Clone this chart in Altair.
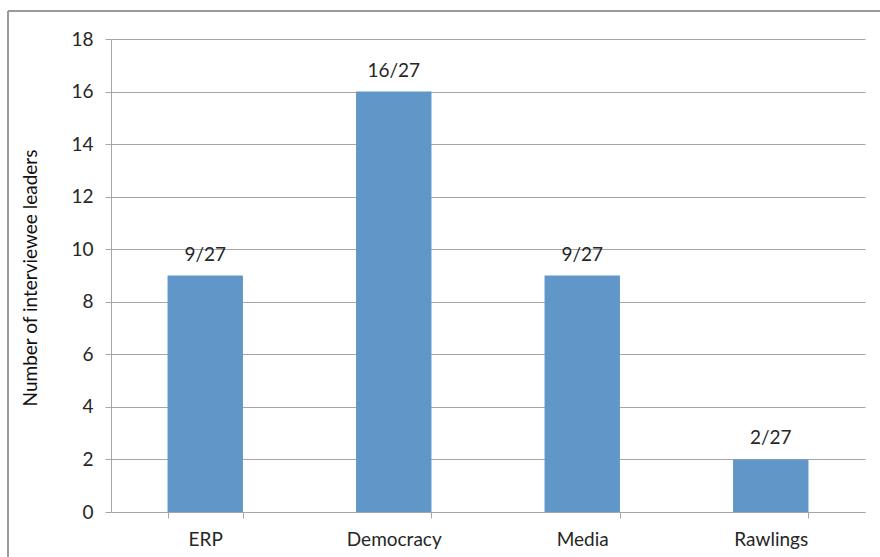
import altair as alt
import pandas as pd

categories = ["ERP", "Democracy", "Media", "Rawlings"]
values = [9, 16, 9, 2]
labels = ["9/27", "16/27", "9/27", "2/27"]

df = pd.DataFrame({"category": categories, "value": values, "label": labels})

FONT = "Lato"
GRID = "#A6A6A6"
W, H = 754, 473
FS = 19

x_enc = alt.X("category:N", sort=categories,
              scale=alt.Scale(paddingInner=0.6, paddingOuter=0.3),
              axis=alt.Axis(title=None, labelAngle=0, labelFontSize=FS, labelFont=FONT,
                            labelColor="#262626", labelPadding=12, tickBand="extent",
                            tickSize=6, tickColor=GRID, domainColor=GRID, domainWidth=1))
y_enc = alt.Y("value:Q", scale=alt.Scale(domain=[0, 18], nice=False),
              axis=alt.Axis(values=list(range(0, 19, 2)), title="Number of interviewee leaders",
                            titleFont=FONT, titleFontSize=FS, titleFontWeight="normal",
                            titleColor="#111111", titleX=-81, titleY=H / 2 + 2,
                            titleAngle=-90, titleAlign="center", titleBaseline="middle",
                            labelFontSize=FS, labelFont=FONT, labelColor="#262626",
                            labelPadding=12, tickSize=6, tickColor=GRID,
                            domainColor=GRID, gridColor=GRID, grid=True, gridWidth=1))

bars = alt.Chart(df).mark_bar(color="#6096C8").encode(x=x_enc, y=y_enc)
text = alt.Chart(df).mark_text(font=FONT, fontSize=FS, color="#262626",
                               baseline="alphabetic", dy=-15).encode(
    x=alt.X("category:N", sort=categories), y="value:Q", text="label:N")

border_v = alt.Chart(df).mark_rule(color="#9A9A9A", strokeWidth=1.5).encode(
    x=alt.value(-103), y=alt.value(-28), y2=alt.value(530))
border_h = alt.Chart(df).mark_rule(color="#9A9A9A", strokeWidth=1.5).encode(
    x=alt.value(-103), x2=alt.value(780), y=alt.value(-28))

chart = alt.layer(bars, text, border_v, border_h).properties(
    width=W, height=H,
    autosize=alt.AutoSizeParams(type="none"),
    padding={"left": 111, "top": 39, "right": 15, "bottom": 45},
    background="white",
).configure_view(stroke=None)

chart.save("out.html", embed_options={"renderer": "svg", "actions": False})
